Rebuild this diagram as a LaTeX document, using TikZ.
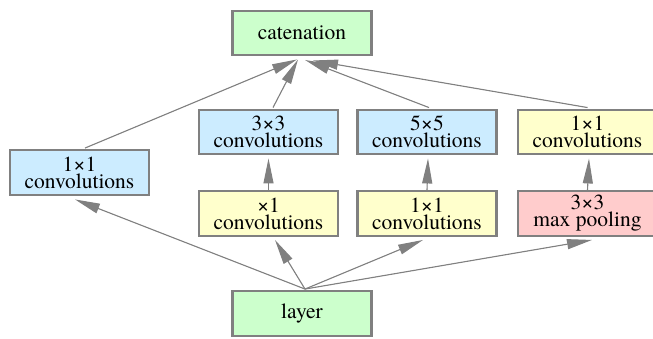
\documentclass[tikz,border=0pt]{standalone}
\usepackage{fontspec}
\newfontfamily\boxfont{TeX Gyre Termes}
\usetikzlibrary{arrows.meta,calc}
\definecolor{boxline}{HTML}{808080}
\definecolor{edgecol}{HTML}{808080}
\definecolor{fillgreen}{HTML}{CCFFCC}
\definecolor{fillblue}{HTML}{CCECFF}
\definecolor{fillyellow}{HTML}{FFFFCC}
\definecolor{fillpink}{HTML}{FFCCCC}
\begin{document}
\begin{tikzpicture}[x=1pt,y=-1pt,
  box/.style={draw=boxline, line width=2.4pt, minimum width=139pt,
    minimum height=44.5pt, inner sep=0pt, align=center,
    font=\boxfont\fontsize{21.5}{17}\selectfont},
  greenbox/.style={box, fill=fillgreen},
  bluebox/.style={box, fill=fillblue},
  yellowbox/.style={box, fill=fillyellow},
  pinkbox/.style={box, fill=fillpink},
  edge/.style={draw=edgecol, line width=1.1pt,
    -{Triangle[length=25pt,width=10pt]}, fill=edgecol}]
\useasboundingbox (0,0) rectangle (653,338);

% nodes
\node[greenbox]  (cat)   at (302,33)    {catenation};
\node[bluebox]   (c3)    at (268.5,132) {3×3\\convolutions};
\node[bluebox]   (c5)    at (427,132)   {5×5\\convolutions};
\node[yellowbox] (r1)    at (587.5,132) {1×1\\convolutions};
\node[bluebox]   (left)  at (79.5,172.5){1×1\\convolutions};
\node[yellowbox] (x1)    at (268.5,213.5){×1\\convolutions};
\node[yellowbox] (m1)    at (427,213.5) {1×1\\convolutions};
\node[pinkbox]   (mp)    at (587.5,213.5){3×3\\max pooling};
\node[greenbox]  (layer) at (302,313.5) {layer};

\coordinate (src) at ($(layer.north)+(3,-1)$);

% edges out of the input layer
\draw[edge] (src) -- ($(left.south)+(-4.5,3.5)$);
\draw[edge] (src) -- ($(x1.south)+(6.5,3)$);
\draw[edge] (src) -- ($(m1.south)+(-4,3)$);
\draw[edge] (src) -- ($(mp.south)+(4.5,3)$);

% stacked branches
\draw[edge] (x1.north) -- ($(c3.south)+(0,3)$);
\draw[edge] (m1.north) -- ($(c5.south)+(1,3)$);
\draw[edge] (mp.north) -- ($(r1.south)+(1.5,3)$);

% edges into the concatenation
\draw[edge] ($(left.north)+(5.5,-1)$) -- ($(cat.south)+(-5,3)$);
\draw[edge] ($(c3.north)+(4.5,-1)$)   -- ($(cat.south)+(-4,3)$);
\draw[edge] ($(c5.north)+(2,-1)$)     -- ($(cat.south)+(3,3.5)$);
\draw[edge] ($(r1.north)+(0,-1)$)     -- ($(cat.south)+(11,4)$);
\end{tikzpicture}
\end{document}
